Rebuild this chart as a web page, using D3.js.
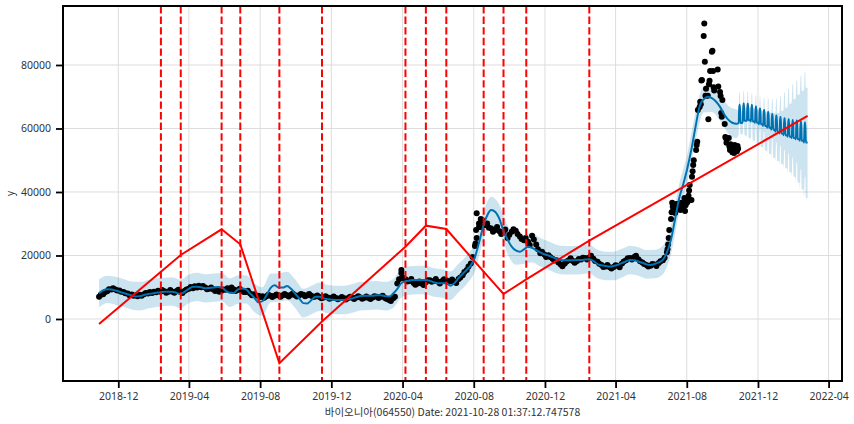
<!DOCTYPE html>
<html>
<head>
<meta charset="utf-8">
<script src="https://cdn.jsdelivr.net/npm/d3@7"></script>
<style>
  body { margin: 0; background: #fff; }
  text { font-family: "Noto Sans", "Noto Sans CJK KR", sans-serif; }
</style>
</head>
<body>
<div id="chart"></div>
<script>
// observed price, one value per week from priceStart (Mondays)
var priceStart = "2018-10-29";
var priceWeekly = [
  7000, 7800, 8700, 9300, 9300, 9000, 8500, 8000, 7700, 7500,
  7600, 7800, 8000, 8200, 8400, 8600, 8700, 8600, 8600, 8800,
  8500, 8900, 9500, 9700, 9900, 10000, 9900, 9500, 9300, 9000,
  8900, 9200, 9400, 9300, 9100, 8900, 8500, 8000, 7800, 7300,
  7200, 7200, 7300, 7300, 7400, 7500, 7500, 7600, 7500, 7500,
  7600, 7500, 7300, 7100, 6900, 6800, 6800, 6700, 6600, 6500,
  6500, 6600, 6700, 6800, 6800, 6700, 6600, 6800, 7000, 7000,
  6600, 6000, 6500, 11200, 14500, 12500, 12000, 11300, 11200, 11200,
  11600, 12200, 12000, 11700, 12000, 12200, 11900, 11700, 12600, 13800,
  15400, 17500, 23000, 29000, 31000, 30100, 28500, 28000, 27600, 27200,
  25500, 27500, 27800, 26000, 24800, 24300, 26200, 23500, 20700, 20300,
  20100, 19000, 18500, 17200, 17500, 18500, 18300, 18300, 18700, 19200,
  19400, 19000, 18000, 17000, 16500, 16300, 16400, 16800, 17500, 18500,
  19200, 19500, 18800, 17800, 17000, 16800, 17200, 17600, 18500
];
// same weeks, Thursday close
var priceMidweek = [
  7600, 8400, 9400, 9700, 9000, 8600, 8100, 7500, 7300, 7200,
  7300, 8200, 8500, 8600, 8900, 9100, 8300, 9100, 8300, 9200,
  8200, 9300, 10100, 10300, 10500, 10400, 9400, 9900, 8800, 8600,
  9300, 9700, 9900, 8800, 9500, 8500, 8900, 7500, 7400, 6900,
  6700, 7600, 6900, 7700, 7000, 7900, 7100, 8000, 7100, 7900,
  7200, 7900, 6900, 7400, 6500, 7200, 6400, 7100, 6200, 6900,
  6100, 7000, 6300, 7200, 6400, 7100, 6300, 7200, 6600, 7300,
  6300, 5700, 7000, 12500, 13000, 11800, 12600, 10800, 11800, 10700,
  12200, 11700, 12600, 11200, 12500, 11700, 12400, 11300, 13100, 14800,
  16500, 19500, 25500, 31500, 29500, 28700, 27500, 29000, 26800, 28200,
  26500, 28300, 26800, 25200, 25500, 23300, 25000, 22000, 21200, 19500,
  19500, 18400, 17800, 16600, 18100, 19100, 17700, 18900, 19300, 18700,
  19900, 18300, 17400, 16400, 17000, 15900, 16900, 16300, 18100, 19100,
  18700, 19900, 18200, 17300, 16500, 17300, 16700, 18200, 19300
];

// single days that stand out from the weekly band
var extraDates = ["2020-03-30", "2020-03-31", "2020-08-04", "2020-08-05", "2020-08-06", "2020-08-10", "2020-08-13"];
var extraValues = [15400, 13000, 23800, 28000, 33300, 30100, 29000];

// daily price for the 2021 run-up
var denseDates = [
  "2021-06-28", "2021-06-29", "2021-06-30", "2021-07-01", "2021-07-02", "2021-07-05", "2021-07-06", "2021-07-07",
  "2021-07-08", "2021-07-09", "2021-07-12", "2021-07-13", "2021-07-14", "2021-07-15", "2021-07-16", "2021-07-19",
  "2021-07-20", "2021-07-21", "2021-07-22", "2021-07-23", "2021-07-26", "2021-07-27", "2021-07-28", "2021-07-29",
  "2021-07-30", "2021-08-02", "2021-08-03", "2021-08-04", "2021-08-05", "2021-08-06", "2021-08-09", "2021-08-10",
  "2021-08-11", "2021-08-12", "2021-08-13", "2021-08-17", "2021-08-18", "2021-08-19", "2021-08-20", "2021-08-23",
  "2021-08-24", "2021-08-25", "2021-08-26", "2021-08-27", "2021-08-30", "2021-08-31", "2021-09-01", "2021-09-02",
  "2021-09-03", "2021-09-06", "2021-09-07", "2021-09-08", "2021-09-09", "2021-09-10", "2021-09-13", "2021-09-14",
  "2021-09-15", "2021-09-16", "2021-09-17", "2021-09-23", "2021-09-24", "2021-09-27", "2021-09-28", "2021-09-29",
  "2021-09-30", "2021-10-01", "2021-10-05", "2021-10-06", "2021-10-07", "2021-10-08", "2021-10-12", "2021-10-13",
  "2021-10-14", "2021-10-15", "2021-10-18", "2021-10-19", "2021-10-20", "2021-10-21", "2021-10-22", "2021-10-25",
  "2021-10-26", "2021-10-27", "2021-10-28"
];
var denseValues = [
  21000, 22000, 23500, 25500, 28000, 31500, 33600, 36600,
  35400, 34600, 33400, 35000, 36200, 34800, 35600, 36400,
  35200, 34300, 35800, 36600, 35000, 36500, 38100, 34000,
  35800, 36800, 37500, 38800, 40500, 42200, 37500, 44800,
  46500, 48500, 50000, 53200, 54800, 55800, 65800, 66800,
  68400, 67600, 75100, 75300, 89100, 93100, 81000, 70300,
  72500, 70300, 62900, 73900, 75000, 78100, 84200, 84500,
  78100, 73000, 72000, 78600, 73200, 71500, 70200, 64900,
  63700, 69000, 61400, 57300, 56900, 55500, 57000, 54300,
  53200, 55000, 52500, 54300, 53500, 52300, 54800, 53800,
  52800, 54500, 53600
];

// fitted yhat, weekly from priceStart
var yhatWeekly = [
  8100, 9000, 9350, 9300, 9000, 8600, 8200, 7800, 7400, 7050,
  7200, 7550, 7850, 8050, 8250, 8450, 8550, 8600, 8600, 8200,
  7870, 8600, 9500, 10170, 10150, 10000, 9700, 9750, 9900, 10100,
  10000, 8900, 8300, 8200, 9300, 9600, 9300, 8000, 6700, 5300,
  5600, 7500, 9800, 10600, 9900, 9900, 10400, 9500, 8000, 6500,
  5000, 4900, 6000, 7000, 7000, 6500, 6200, 6100, 6000, 6000,
  6000, 6300, 6500, 6900, 7240, 7300, 7300, 7350, 7500, 7500,
  7200, 7050, 8000, 9500, 11300, 11900, 12100, 12280, 12280, 12280,
  12280, 12000, 11500, 11240, 11240, 11240, 10500, 11300, 12900, 14200,
  15500, 16900, 19500, 24000, 29000, 32600, 34300, 33700, 31500, 27700,
  25000, 22800, 21600, 21200, 21900, 22770, 22400, 21700, 21000, 20400,
  20000, 19500, 18900, 18580, 18500, 18500, 18500, 18580, 18600, 18700,
  18800, 18300, 17300, 16900, 16700, 16500, 16700, 17100, 17600, 18200,
  18600, 18500, 18100, 17700, 17200, 17000, 17300, 17800, 18600, 21000,
  25000, 31500, 38000, 42500, 47500, 53500, 60500, 67000, 69200, 70000,
  69600, 68500, 66800, 64500, 62800, 61800, 61500
];

// uncertainty band, every two weeks from priceStart
var bandUpper = [
  12500, 13600, 13300, 12600, 11800, 11700, 12300, 12800, 13000, 13100,
  12400, 14000, 14600, 14100, 14300, 14500, 12800, 13700, 13800, 11200,
  10000, 14300, 14400, 14900, 12500, 9500, 10500, 11500, 10700, 10500,
  10500, 11000, 11700, 11800, 12000, 11700, 12500, 15800, 16600, 16800,
  16800, 16000, 15700, 15000, 17400, 20000, 24000, 33500, 38500, 36000,
  29500, 26100, 26400, 26900, 25500, 24500, 23400, 23000, 23000, 23100,
  23300, 21800, 21200, 21200, 22100, 23100, 22600, 21700, 21800, 23100,
  29500, 42500, 52000, 65000, 73500, 74000, 71200, 67200, 66000
];
var bandLower = [
  3600, 5000, 4500, 3800, 3000, 2700, 3300, 3800, 4100, 4200,
  3400, 5000, 5700, 5200, 5400, 5600, 3800, 4800, 4900, 2200,
  1000, 5300, 5400, 5900, 3500, 500, 1500, 2500, 1700, 1500,
  1500, 2000, 2700, 2800, 3000, 2700, 3500, 6800, 7600, 7800,
  7700, 7000, 6700, 6000, 8400, 11000, 15000, 24500, 29300, 27000,
  20500, 17100, 17400, 17900, 16500, 15500, 14400, 14000, 14000, 14100,
  14300, 12800, 12200, 12200, 13100, 14100, 13600, 12700, 12800, 14100,
  20500, 33500, 43000, 56000, 65000, 65200, 62400, 58400, 57000
];

// forecast: one level for weekdays and one for weekends, per week from forecastStart (a Friday)
var forecastStart = "2021-10-29";
var fcWeekday = [61700, 62400, 62600, 62200, 61800, 61300, 60800, 60200, 59600, 59000, 58400, 57900, 57400, 57000, 56600, 56100, 55600];
var fcWeekend = [67500, 67900, 67800, 67400, 66900, 66300, 65800, 65200, 64600, 64100, 63600, 63200, 62900, 62700, 62500, 62200, 61900];
var fcUpperWeekday = [65700, 66500, 66600, 66400, 66100, 65700, 65300, 65000, 64800, 64900, 65500, 66500, 67800, 69200, 70600, 71800, 72800];
var fcUpperWeekend = [71300, 71700, 71500, 71000, 70400, 70000, 69700, 69500, 69300, 69400, 70200, 71300, 72600, 73900, 75200, 76600, 77900];
var fcLowerWeekday = [58200, 57800, 57000, 56200, 55200, 54200, 53100, 52000, 50800, 49800, 48700, 47500, 46200, 44800, 43000, 40800, 38000];
var fcLowerWeekend = [63800, 63500, 62800, 62000, 61000, 60000, 58900, 57800, 56700, 55600, 54500, 53300, 52200, 50900, 49400, 47200, 44800];

// trend and its significant changepoints
var trendDates = ["2018-10-29", "2019-02-12", "2019-03-18", "2019-05-27", "2019-06-28", "2019-09-03", "2019-11-15",
  "2020-04-06", "2020-05-11", "2020-06-15", "2020-08-18", "2020-09-21", "2020-10-30", "2021-02-15", "2022-02-24"];
var trendValues = [-1575, 14900, 20160, 28250, 23530, -13950, -800, 22770, 29390, 28350, 14900, 7870, 12500, 24700, 63940];
var changepoints = ["2019-02-12", "2019-03-18", "2019-05-27", "2019-06-28", "2019-09-03", "2019-11-15",
  "2020-04-06", "2020-05-11", "2020-06-15", "2020-08-18", "2020-09-21", "2020-10-30", "2021-02-15"];

var xTickLabels = ["2018-12", "2019-04", "2019-08", "2019-12", "2020-04", "2020-08", "2020-12", "2021-04", "2021-08", "2021-12", "2022-04"];
var yTickValues = [0, 20000, 40000, 60000, 80000];

var xLabel = "바이오니아(064550) Date: 2021-10-28 01:37:12.747578";

var svgWidth = 854;
var svgHeight = 424;

var margin = {
  top: 6,
  right: 12,
  bottom: 43,
  left: 63
};

var width = svgWidth - margin.left - margin.right;
var height = svgHeight - margin.top - margin.bottom;

var parseDate = d3.timeParse("%Y-%m-%d");
var parseMonth = d3.timeParse("%Y-%m");

var svg = d3.select("#chart")
  .append("svg")
  .attr("width", svgWidth)
  .attr("height", svgHeight);

var chartGroup = svg.append("g")
  .attr("transform", `translate(${margin.left}, ${margin.top})`);

// pin the scale on two tick dates, then stretch it to the plot edges
var xScale = d3.scaleTime()
  .domain([parseDate("2018-12-01"), parseDate("2022-04-01")])
  .range([55.3, 765.6]);
xScale.domain([xScale.invert(0), xScale.invert(width)]).range([0, width]);

var yScale = d3.scaleLinear()
  .domain([-19530, 98580])
  .range([height, 0]);

var start = parseDate(priceStart);

var priceData = priceWeekly.map((v, i) => ({date: d3.timeDay.offset(start, 7 * i), value: v}));
priceMidweek.forEach((v, i) => priceData.push({date: d3.timeDay.offset(start, 7 * i + 3), value: v}));
extraDates.forEach((d, i) => priceData.push({date: parseDate(d), value: extraValues[i]}));
denseDates.forEach((d, i) => priceData.push({date: parseDate(d), value: denseValues[i]}));

// yhat line: weekly history, then daily forecast
var yhatData = yhatWeekly.map((v, i) => ({date: d3.timeDay.offset(start, 7 * i), value: v}));
var bandData = bandUpper.map((v, i) => ({date: d3.timeDay.offset(start, 14 * i), upper: v, lower: bandLower[i]}));

var fcStart = parseDate(forecastStart);
fcWeekday.forEach(function(v, w) {
  for (var d = 0; d < 7; d++) {
    var day = d3.timeDay.offset(fcStart, 7 * w + d);
    var weekend = (day.getDay() === 0 || day.getDay() === 6);
    yhatData.push({date: day, value: weekend ? fcWeekend[w] : v});
    bandData.push({
      date: day,
      upper: weekend ? fcUpperWeekend[w] : fcUpperWeekday[w],
      lower: weekend ? fcLowerWeekend[w] : fcLowerWeekday[w]
    });
  }
});

var trendData = trendDates.map((d, i) => ({date: parseDate(d), value: trendValues[i]}));

// grid
chartGroup.append("g")
  .selectAll("line")
  .data(xTickLabels)
  .enter()
  .append("line")
  .attr("x1", d => xScale(parseMonth(d)))
  .attr("x2", d => xScale(parseMonth(d)))
  .attr("y1", 0)
  .attr("y2", height)
  .attr("stroke", "#dddddd")
  .attr("stroke-width", 1);

chartGroup.append("g")
  .selectAll("line")
  .data(yTickValues)
  .enter()
  .append("line")
  .attr("x1", 0)
  .attr("x2", width)
  .attr("y1", d => yScale(d))
  .attr("y2", d => yScale(d))
  .attr("stroke", "#dddddd")
  .attr("stroke-width", 1);

// uncertainty band
var area = d3.area()
  .x(d => xScale(d.date))
  .y0(d => yScale(d.lower))
  .y1(d => yScale(d.upper))
  .curve(d3.curveMonotoneX);

chartGroup.append("path")
  .datum(bandData)
  .attr("d", area)
  .attr("fill", "#0072B2")
  .attr("fill-opacity", 0.2);

// observed points
chartGroup.append("g")
  .selectAll("circle")
  .data(priceData)
  .enter()
  .append("circle")
  .attr("cx", d => xScale(d.date))
  .attr("cy", d => yScale(d.value))
  .attr("r", 3)
  .attr("fill", "black");

// yhat
var line = d3.line()
  .x(d => xScale(d.date))
  .y(d => yScale(d.value))
  .curve(d3.curveMonotoneX);

chartGroup.append("path")
  .datum(yhatData)
  .attr("d", line)
  .attr("fill", "none")
  .attr("stroke", "#0072B2")
  .attr("stroke-width", 2);

// trend
chartGroup.append("path")
  .datum(trendData)
  .attr("d", d3.line().x(d => xScale(d.date)).y(d => yScale(d.value)))
  .attr("fill", "none")
  .attr("stroke", "red")
  .attr("stroke-width", 2);

// changepoints
chartGroup.append("g")
  .selectAll("line")
  .data(changepoints)
  .enter()
  .append("line")
  .attr("x1", d => xScale(parseDate(d)))
  .attr("x2", d => xScale(parseDate(d)))
  .attr("y1", 0)
  .attr("y2", height)
  .attr("stroke", "red")
  .attr("stroke-width", 2)
  .attr("stroke-dasharray", "7.4,3.2");

// axes
var bottomAxis = d3.axisBottom(xScale)
  .tickValues(xTickLabels.map(parseMonth))
  .tickFormat(d3.timeFormat("%Y-%m"))
  .tickSize(7)
  .tickPadding(5);

var leftAxis = d3.axisLeft(yScale)
  .tickValues(yTickValues)
  .tickFormat(d3.format("d"))
  .tickSize(7)
  .tickPadding(5);

var xAxis = chartGroup.append("g")
  .attr("transform", `translate(0, ${height})`)
  .call(bottomAxis);

var yAxis = chartGroup.append("g")
  .call(leftAxis);

[xAxis, yAxis].forEach(function(ax) {
  ax.select(".domain").remove();
  ax.selectAll(".tick line").attr("stroke", "black").attr("stroke-width", 1.8);
  ax.selectAll(".tick text")
    .attr("fill", "#333")
    .style("font-family", "'Noto Sans', sans-serif")
    .style("font-size", "10.5px");
});

// frame
chartGroup.append("rect")
  .attr("x", 0)
  .attr("y", 0)
  .attr("width", width)
  .attr("height", height)
  .attr("fill", "none")
  .attr("stroke", "black")
  .attr("stroke-width", 2);

// labels
svg.append("text")
  .attr("x", margin.left + width / 2)
  .attr("y", 416)
  .attr("text-anchor", "middle")
  .attr("fill", "#333")
  .style("font-family", "'Noto Sans CJK KR', 'Noto Sans', sans-serif")
  .style("font-size", "10.5px")
  .text(xLabel);

svg.append("text")
  .attr("transform", `translate(14, ${margin.top + height / 2}) rotate(-90)`)
  .attr("text-anchor", "middle")
  .attr("fill", "#333")
  .style("font-size", "10px")
  .text("y");
</script>
</body>
</html>
